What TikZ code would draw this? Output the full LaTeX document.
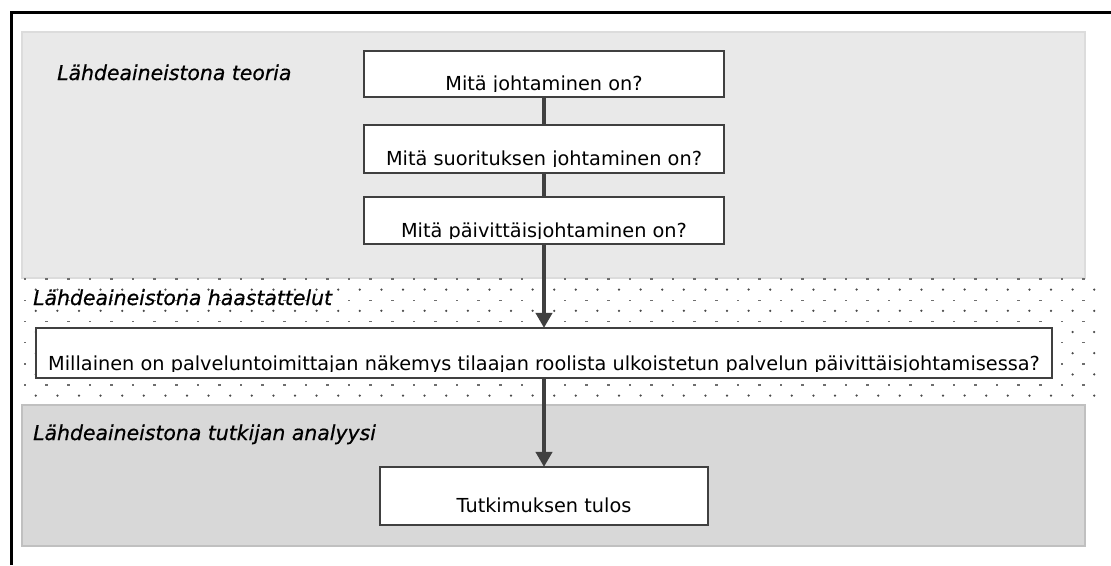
\documentclass[tikz,border=0pt]{standalone}
\usepackage{fontspec}
\setmainfont{DejaVu Sans}
\newfontfamily\lblfont{DejaVu Sans}[FakeBold=0.6]
\usetikzlibrary{arrows.meta}
\definecolor{panelLight}{HTML}{E9E9E9}
\definecolor{panelLightEdge}{HTML}{DCDCDC}
\definecolor{panelDark}{HTML}{D8D8D8}
\definecolor{panelDarkEdge}{HTML}{C0C0C0}
\definecolor{flow}{HTML}{404040}
\definecolor{dotc}{HTML}{4A4A4A}
\tikzset{
  panel/.style={line width=1.6pt},
  qbox/.style={draw=flow, fill=white, line width=1.1pt, inner sep=0pt},
  qtext/.style={anchor=base, inner sep=0pt, font=\fontsize{19.3}{22}\selectfont},
  lbl/.style={anchor=base west, inner sep=0pt, font=\lblfont\fontsize{20.4}{24}\selectfont\itshape},
  conn/.style={draw=flow, line width=4.8pt},
  arr/.style={conn, -{Triangle[width=16pt,length=15pt]}, shorten >=-0.5pt},
}
\begin{document}
\begin{tikzpicture}[x=1pt,y=-1pt]
\useasboundingbox (0,0) rectangle (1111,565);

% outer frame (top and left edges)
\draw[line width=3pt] (11,565) -- (11,12) -- (1111,12);

% theory panel
\draw[panel, draw=panelLightEdge, fill=panelLight] (22,32) rectangle (1085,278);
% analysis panel
\draw[panel, draw=panelDarkEdge, fill=panelDark] (22,405) rectangle (1085,546);

% dotted interview band
\foreach \k in {0,...,11}{
  \pgfmathsetmacro{\yy}{279+10.6*\k}
  \pgfmathtruncatemacro{\odd}{mod(\k,2)}
  \ifnum\odd=0
    \foreach \i in {0,...,49}{
      \fill[dotc!80] ({25+21.6*\i-1.2},{\yy-0.6}) rectangle ++(2.6,1.3);
    }
  \else
    \foreach \i in {0,...,49}{
      \fill[dotc] ({35.8+21.6*\i},\yy) circle (1.25pt);
    }
  \fi
}

% section labels
\node[lbl] (l1) at (57,80) {Lähdeaineistona teoria};
\node[lbl] (l2) at (33,305) {Lähdeaineistona haastattelut};
\node[lbl] (l3) at (33,440) {Lähdeaineistona tutkijan analyysi};

% question boxes
\node[qbox, minimum width=360pt, minimum height=46pt] (q1) at (544,74) {};
\node[qbox, minimum width=360pt, minimum height=48pt] (q2) at (544,149) {};
\node[qbox, minimum width=360pt, minimum height=47pt] (q3) at (544,220.5) {};
\node[qbox, minimum width=1016pt, minimum height=50pt] (q4) at (544,353) {};
\node[qbox, minimum width=328pt, minimum height=58pt] (q5) at (544,496) {};

% box texts, cut just below the baseline
\begin{scope}
  \clip (365,51) rectangle (725,91.5);
  \node[qtext] (t1) at (544,90) {Mitä johtaminen on?};
\end{scope}
\begin{scope}
  \clip (365,125) rectangle (725,166.5);
  \node[qtext] (t2) at (544,165) {Mitä suorituksen johtaminen on?};
\end{scope}
\begin{scope}
  \clip (365,197) rectangle (725,238.5);
  \node[qtext] (t3) at (544,237) {Mitä päivittäisjohtaminen on?};
\end{scope}
\begin{scope}
  \clip (36,328) rectangle (1052,371.5);
  \node[qtext] (t4) at (544,370) {Millainen on palveluntoimittajan näkemys tilaajan roolista ulkoistetun palvelun päivittäisjohtamisessa?};
\end{scope}
\node[qtext] (t5) at (544,512) {Tutkimuksen tulos};

% flow line
\draw[conn] (q1.south) -- (q2.north);
\draw[conn] (q2.south) -- (q3.north);
\draw[arr] (q3.south) -- (q4.north);
\draw[arr] (q4.south) -- (q5.north);
\end{tikzpicture}
\end{document}
